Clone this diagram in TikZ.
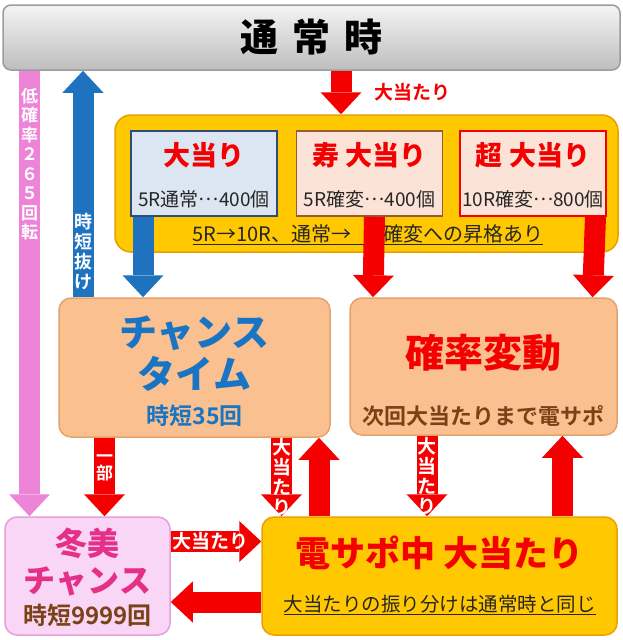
\documentclass[tikz,border=0pt]{standalone}
\usepackage{fontspec}
\setmainfont{Noto Sans CJK JP}[BoldFont={Noto Sans CJK JP Bold}]
\newfontfamily\heavy{Noto Sans CJK JP Black}
\usetikzlibrary{arrows.meta,positioning}

\definecolor{barTop}{HTML}{F4F4F4}
\definecolor{barBot}{HTML}{BEBEBE}
\definecolor{barLine}{HTML}{9C9C9C}
\definecolor{gold}{HTML}{FFC800}
\definecolor{goldLine}{HTML}{E9A000}
\definecolor{paleBlue}{HTML}{DCE6F2}
\definecolor{navy}{HTML}{2F4B7C}
\definecolor{palePeach}{HTML}{FBE4D7}
\definecolor{brownLine}{HTML}{9A5A33}
\definecolor{peach}{HTML}{FAC090}
\definecolor{peachLine}{HTML}{E6A26C}
\definecolor{lilac}{HTML}{FAD6F6}
\definecolor{lilacLine}{HTML}{E4A0D8}
\definecolor{hitRed}{HTML}{F40000}
\definecolor{arrBlue}{HTML}{1E72BE}
\definecolor{arrPink}{HTML}{EE84D8}
\definecolor{txtBlue}{HTML}{1A74C4}
\definecolor{txtMag}{HTML}{E5308A}
\definecolor{txtBrown}{HTML}{7A4216}

\newcommand\middots{\raisebox{.3em}{…}}

\tikzset{
  box/.style={draw, line width=1.5pt, rounded corners=12pt, inner sep=0pt},
  innerbox/.style={draw, line width=1.5pt, inner sep=0pt, minimum width=146pt, minimum height=85pt},
  title/.style={text=hitRed, font=\heavy\fontsize{27}{30}\selectfont},
  sub/.style={text=black!85, font=\fontsize{19}{21}\selectfont},
  fat/.style={line width=21pt, -{Triangle[length=22pt,width=41pt,line width=0pt]}},
  vlab/.style 2 args={text=white, align=center, inner sep=0pt, font=\bfseries\fontsize{#1}{#2}\selectfont},
}

\begin{document}
\begin{tikzpicture}[x=1pt,y=-1pt]
  \useasboundingbox (0,0) rectangle (622,640);

  % normal play
  \node[box, draw=barLine, top color=barTop, bottom color=barBot, rounded corners=8pt,
        minimum width=617pt, minimum height=65pt, font=\heavy\fontsize{38}{40}\selectfont]
        (normal) at (311.5,37.5) {通\hspace{14pt}常\hspace{14pt}時};

  % jackpot types
  \node[box, draw=goldLine, fill=gold, rounded corners=16pt, minimum width=503pt, minimum height=137pt] (hit) at (366.5,183.5) {};
  \node[innerbox, draw=navy, fill=paleBlue] (hitA) at (204,173.5) {};
  \node[innerbox, draw=brownLine, fill=palePeach, right=18pt of hitA] (hitB) {};
  \node[innerbox, draw=hitRed, fill=palePeach, right=16pt of hitB] (hitC) {};
  \node[title] at ([yshift=18pt]hitA.center) {大当り};
  \node[title] at ([yshift=18pt]hitB.center) {寿 大当り};
  \node[title] at ([yshift=18pt]hitC.center) {超 大当り};
  \node[sub] at ([yshift=-25.5pt]hitA.center) {5R通常\middots400個};
  \node[sub] at ([yshift=-25.5pt]hitB.center) {5R確変\middots400個};
  \node[sub] at ([yshift=-25.5pt]hitC.center) {10R確変\middots800個};
  \node[text=black!85, font=\fontsize{20}{22}\selectfont] (promo) at (368,235)
        {\underline{5R→10R、通常→\hspace{32pt}確変への昇格あり}};

  % chance time
  \node[box, draw=peachLine, fill=peach, minimum width=271pt, minimum height=139pt] (ct) at (194.5,367.5) {};
  \node[text=txtBlue, align=center, font=\heavy\fontsize{38}{42}\selectfont] at ([yshift=13.5pt]ct.center) {チャンス\\タイム};
  \node[text=txtBlue, font=\bfseries\fontsize{23}{25}\selectfont] at ([yshift=-48.5pt]ct.center) {時短35回};

  % probability change
  \node[box, draw=peachLine, fill=peach, minimum width=267pt, minimum height=137pt] (kh) at (483.5,366.5) {};
  \node[text=hitRed, font=\heavy\fontsize{39}{42}\selectfont] at ([yshift=13.5pt]kh.center) {確率変動};
  \node[text=txtBrown, font=\bfseries\fontsize{22}{24}\selectfont] at ([yshift=-49.5pt]kh.center) {次回大当たりまで電サポ};

  % fuyumi chance
  \node[box, draw=lilacLine, fill=lilac, minimum width=165pt, minimum height=118pt] (fy) at (87.5,576) {};
  \node[text=txtMag, align=center, font=\heavy\fontsize{32}{37}\selectfont] at ([yshift=14.5pt]fy.center) {冬美\\チャンス};
  \node[text=txtBrown, font=\bfseries\fontsize{24}{26}\selectfont] at ([yshift=-39pt]fy.center) {時短9999回};

  % jackpot during e-support
  \node[box, draw=goldLine, fill=gold, minimum width=355pt, minimum height=118pt] (ds) at (439.5,576) {};
  \node[text=hitRed, font=\heavy\fontsize{35}{38}\selectfont] at ([yshift=23pt]ds.center) {電サポ中 大当たり};
  \node[text=black!85, font=\fontsize{19.5}{22}\selectfont] at ([yshift=-29pt]ds.center) {\underline{大当たりの振り分けは通常時と同じ}};

  % arrows
  \draw[fat, draw=hitRed] ([xshift=29.5pt]normal.south) -- ([xshift=-25.5pt]hit.north)
        node[pos=0.5, anchor=west, xshift=20pt, text=hitRed, font=\bfseries\fontsize{19}{21}\selectfont] {大当たり};
  \draw[fat, draw=arrPink] ([xshift=-282pt]normal.south) -- ([xshift=-58pt]fy.north)
        node[vlab={17}{19.5}, pos=0.21] {低\\確\\率\\２\\６\\５\\回\\転};
  \draw[fat, draw=arrBlue] ([xshift=-111.5pt]ct.north) -- ([xshift=-228.5pt]normal.south)
        node[vlab={18}{20}, pos=0.2] {時\\短\\抜\\け};
  \draw[fat, draw=arrBlue] ([xshift=-61pt]hitA.south) -- ([xshift=-51.5pt]ct.north);
  \draw[fat, draw=hitRed] ([xshift=5pt]hitB.south) -- ([xshift=-110.5pt]kh.north);
  \draw[fat, draw=hitRed] ([xshift=62.5pt]hitC.south) -- ([xshift=109pt]kh.north);

  \draw[fat, draw=hitRed] ([xshift=-90pt]ct.south) -- ([xshift=17pt]fy.north)
        node[vlab={17}{17}, pos=0.39] {一\\部};
  \draw[fat, draw=hitRed] ([xshift=87pt]ct.south) -- ([xshift=-158pt]ds.north)
        node[vlab={19}{20}, pos=0.5] {大\\当\\た\\り};
  \draw[fat, draw=hitRed] ([xshift=-120.5pt]ds.north) -- ([xshift=124.5pt]ct.south);
  \draw[fat, draw=hitRed] ([xshift=-56.5pt]kh.south) -- ([xshift=-12.5pt]ds.north)
        node[vlab={19}{20}, pos=0.5] {大\\当\\た\\り};
  \draw[fat, draw=hitRed] ([xshift=123pt]ds.north) -- ([xshift=79pt]kh.south);

  \draw[fat, draw=hitRed] ([yshift=34.5pt]fy.east) -- ([yshift=34.5pt]ds.west)
        node[pos=0.44, text=white, font=\bfseries\fontsize{19}{21}\selectfont] {大当たり};
  \draw[fat, draw=hitRed] ([yshift=-26pt]ds.west) -- ([yshift=-26pt]fy.east);
\end{tikzpicture}
\end{document}
